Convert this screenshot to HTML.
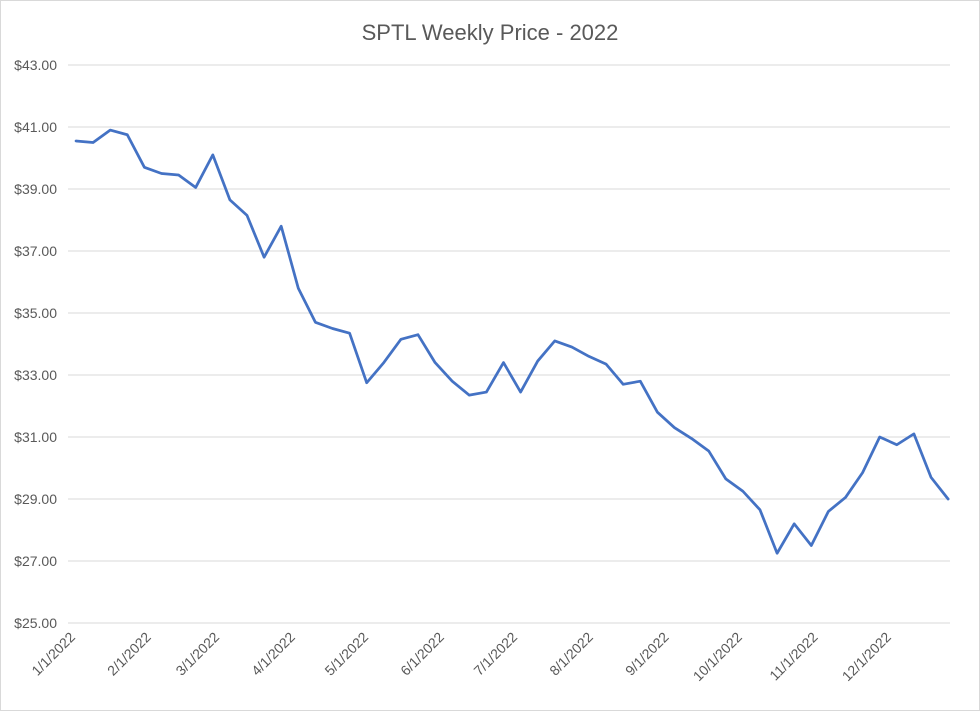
<!DOCTYPE html>
<html><head><meta charset="utf-8"><style>
html,body{margin:0;padding:0;background:#fff;}
svg{display:block;font-family:"Liberation Sans",sans-serif;}
</style></head><body>
<svg id="chart" width="980" height="711" viewBox="0 0 980 711" xmlns="http://www.w3.org/2000/svg">
<rect x="0.5" y="0.5" width="979" height="710" fill="#fff" stroke="#d9d9d9"/>
<text x="490" y="40" text-anchor="middle" font-size="22" fill="#595959">SPTL Weekly Price - 2022</text>
<g id="grid"></g><g id="ylabels"></g><g id="xlabels"></g><g id="series"></g>
</svg>
<script>
const prices=[40.55,40.5,40.9,40.75,39.7,39.5,39.45,39.05,40.1,38.65,38.15,36.8,37.8,35.8,34.7,34.5,34.35,32.75,33.4,34.15,34.3,33.4,32.8,32.35,32.45,33.4,32.45,33.45,34.1,33.9,33.6,33.35,32.7,32.8,31.8,31.3,30.95,30.55,29.65,29.25,28.65,27.25,28.2,27.5,28.6,29.05,29.85,31.0,30.75,31.1,29.7,29.0];
const yTicks=[25,27,29,31,33,35,37,39,41,43];
const xLabels=["1/1/2022","2/1/2022","3/1/2022","4/1/2022","5/1/2022","6/1/2022","7/1/2022","8/1/2022","9/1/2022","10/1/2022","11/1/2022","12/1/2022"];
const xLabelDays=[0,31,59,90,120,151,181,212,243,273,304,334];
const NS="http://www.w3.org/2000/svg";
const x0=76,step=17.1;
function xs(i){return x0+i*step;}
function ys(v){return 623-(v-25)*31;}
const grid=document.getElementById('grid'),yl=document.getElementById('ylabels'),xl=document.getElementById('xlabels'),ser=document.getElementById('series');
yTicks.forEach(t=>{
 const l=document.createElementNS(NS,'line');
 
 
 l.setAttribute('x1',68);l.setAttribute('x2',950);
 l.setAttribute('y1',ys(t));l.setAttribute('y2',ys(t));
 l.setAttribute('stroke','#d9d9d9');l.setAttribute('stroke-width',1);
 grid.appendChild(l);
 const tx=document.createElementNS(NS,'text');
 
 
 tx.setAttribute('x',57);tx.setAttribute('y',ys(t)+5);
 tx.setAttribute('text-anchor','end');tx.setAttribute('font-size','14');tx.setAttribute('fill','#595959');
 tx.textContent='$'+t.toFixed(2);
 yl.appendChild(tx);
});
xLabels.forEach((s,i)=>{
 const x=xs(xLabelDays[i]/7);
 const tx=document.createElementNS(NS,'text');
 
 
 tx.setAttribute('x',x);tx.setAttribute('y',638);
 tx.setAttribute('text-anchor','end');tx.setAttribute('font-size','14');tx.setAttribute('fill','#595959');
 tx.setAttribute('transform','rotate(-45 '+x+' 638)');
 tx.textContent=s;
 xl.appendChild(tx);
});
const p=document.createElementNS(NS,'polyline');


p.setAttribute('points',prices.map((v,i)=>xs(i)+','+ys(v)).join(' '));
p.setAttribute('fill','none');p.setAttribute('stroke','#4472c4');p.setAttribute('stroke-width','2.75');p.setAttribute('stroke-linejoin','round');p.setAttribute('stroke-linecap','round');
ser.appendChild(p);
</script>
</body></html>
